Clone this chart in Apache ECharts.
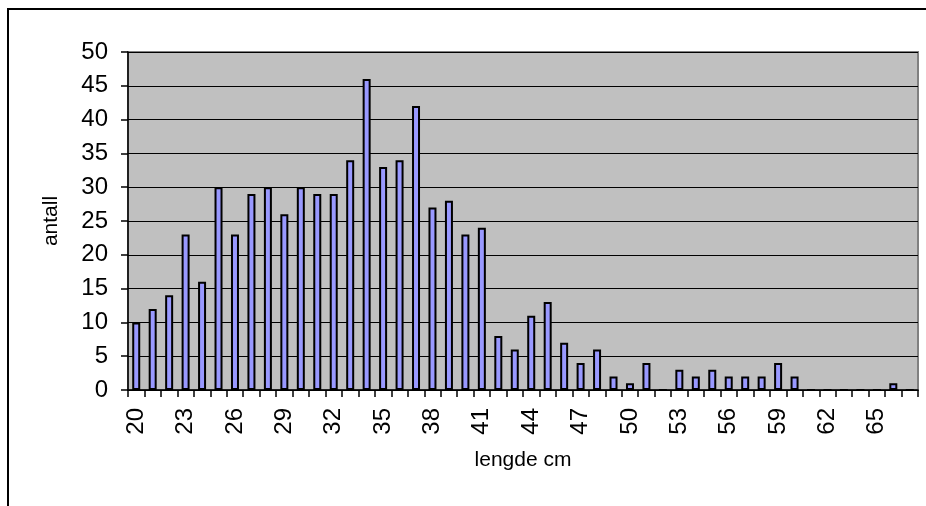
<!DOCTYPE html>
<html>
<head>
<meta charset="utf-8">
<script src="https://cdn.jsdelivr.net/npm/echarts@6/dist/echarts.min.js"></script>
<style>
html,body{margin:0;padding:0;background:#fff;}
#c{width:926px;height:506px;}
</style>
</head>
<body>
<div id="c"></div>
<script>
var categories = ['20','21','22','23','24','25','26','27','28','29','30','31','32','33','34','35','36','37','38','39','40','41','42','43','44','45','46','47','48','49','50','51','52','53','54','55','56','57','58','59','60','61','62','63','64','65','66','67'];
var antall = [10,12,14,23,16,30,23,29,30,26,30,29,29,34,46,33,34,42,27,28,23,24,8,6,11,13,7,4,6,2,1,4,0,3,2,3,2,2,2,4,2,0,0,0,0,0,1,0];
var yTicks = {min:0, max:50, interval:5};

var chart = echarts.init(document.getElementById('c'), null, {renderer:'canvas'});
var font = 'Liberation Sans, Arial, sans-serif';
chart.setOption({
  animation:false,
  backgroundColor:'#ffffff',
  graphic:[{
    type:'rect', shape:{x:8, y:9, width:1000, height:600},
    style:{fill:'none', stroke:'#000', lineWidth:2}, silent:true
  }],
  grid:{left:128, right:8, top:52, bottom:116, show:true, backgroundColor:'#c0c0c0', borderColor:'#808080', borderWidth:2},
  xAxis:{
    type:'category', data:categories, boundaryGap:true,
    name:'lengde cm', nameLocation:'middle', nameGap:60,
    nameTextStyle:{fontFamily:font, fontSize:21, color:'#000'},
    axisLine:{lineStyle:{color:'#000', width:1.5}},
    axisTick:{show:true, interval:0, length:7, lineStyle:{color:'#000', width:1.5}},
    axisLabel:{interval:2, rotate:90, margin:18, fontFamily:font, fontSize:24, color:'#000'},
    splitLine:{show:false}
  },
  yAxis:{
    type:'value', min:yTicks.min, max:yTicks.max, interval:yTicks.interval,
    name:'antall', nameLocation:'middle', nameGap:66,
    nameTextStyle:{fontFamily:font, fontSize:21, color:'#000'},
    axisLine:{show:true, lineStyle:{color:'#000', width:1.5}},
    axisTick:{show:true, length:7, lineStyle:{color:'#000', width:1.5}},
    axisLabel:{margin:20, fontFamily:font, fontSize:24, color:'#000'},
    splitLine:{show:true, lineStyle:{color:'#000', width:1}}
  },
  series:[{
    type:'bar', data:antall, barWidth:8,
    itemStyle:{color:'#9999ff', borderColor:'#000', borderWidth:2}
  }]
});
</script>
</body>
</html>
